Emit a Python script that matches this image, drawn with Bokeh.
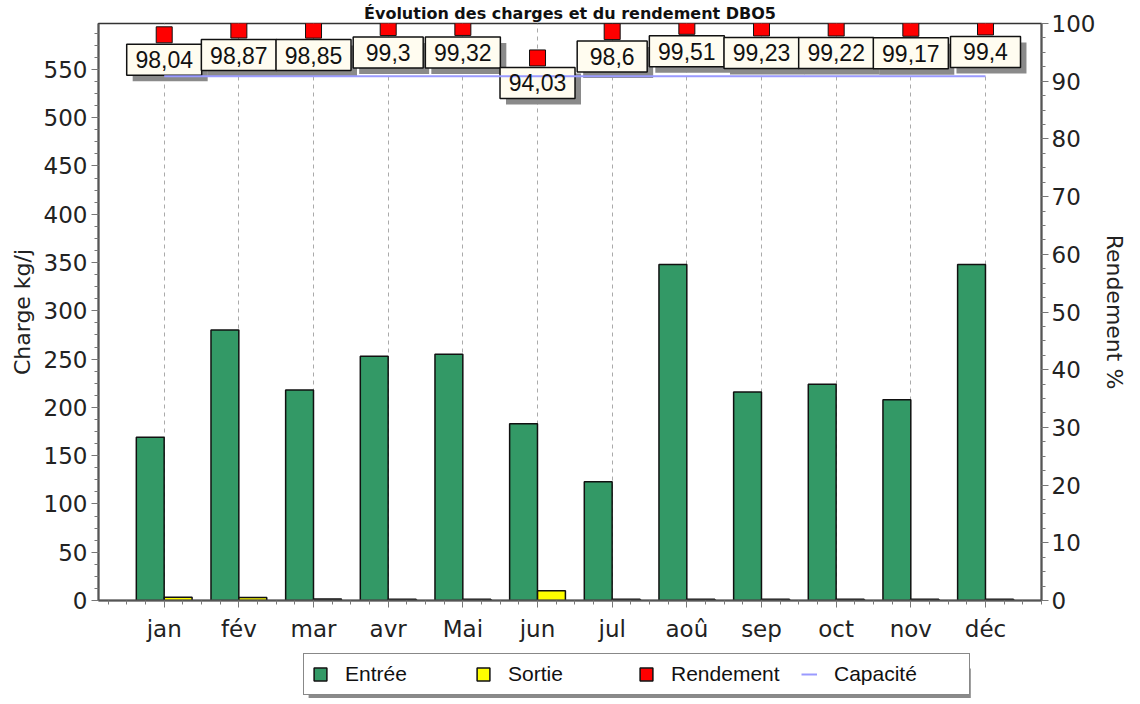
from bokeh.plotting import figure
from bokeh.layouts import column
from bokeh.models import (Range1d, LinearAxis, SingleIntervalTicker, FixedTicker,
                          Title, Legend, LegendItem, ColumnDataSource)
from bokeh.transform import dodge
from bokeh.core.properties import value
from bokeh.embed import file_html
from bokeh.resources import INLINE

# ---- data ----
title = "Évolution des charges et du rendement DBO5"
months = ["jan", "fév", "mar", "avr", "Mai", "jun", "jul", "aoû", "sep", "oct", "nov", "déc"]
entree = [169, 280, 218, 253, 255, 183, 123, 348, 216, 224, 208, 348]
sortie = [3.3, 3.2, 1.6, 1.4, 1.4, 10, 1.4, 1.4, 1.4, 1.4, 1.4, 1.4]
rendement = [98.04, 98.87, 98.85, 99.3, 99.32, 94.03, 98.6, 99.51, 99.23, 99.22, 99.17, 99.4]
capacite = 543
left_max = 597.5
right_max = 100
legend_labels = ["Entrée", "Sortie", "Rendement", "Capacité"]

FONT = "DejaVu Sans"
LFONT = "Liberation Sans"
C_ENT, C_SOR, C_REND, C_CAP = "#339966", "#FFFF00", "#FF0000", "#9a9aff"

W = 1130
FL, FR = 98, 1045          # frame left / right in page pixels
xs = list(range(len(months)))
labels = [f"{v:g}".replace(".", ",") for v in rendement]
src = ColumnDataSource(dict(
    x=xs, entree=entree, sortie=sortie, rend=rendement, lab=labels,
    cap=[capacite] * len(months),
    bw=[50 + 5 * len(s) for s in labels],
))

p = figure(width=W, height=648, x_range=Range1d(-0.88, 11.75),
           y_range=Range1d(0, left_max), output_backend="svg",
           toolbar_location=None, min_border_left=FL, min_border_right=W - FR,
           min_border_top=22, min_border_bottom=48)
p.background_fill_color = "white"
p.border_fill_color = "white"
p.outline_line_color = "#333333"
p.outline_line_width = 1.5

p.extra_y_ranges = {"r": Range1d(0, right_max)}

# axes
minor = [i * 0.25 - 0.75 for i in range(51) if (i * 0.25 - 0.75) % 1 != 0]
p.xaxis.ticker = FixedTicker(ticks=xs, minor_ticks=minor)
p.xaxis.major_label_overrides = {i: m for i, m in enumerate(months)}
p.yaxis.ticker = SingleIntervalTicker(interval=50, num_minor_ticks=4)
p.yaxis.axis_label = "Charge kg/j"
raxis = LinearAxis(y_range_name="r", axis_label="Rendement %",
                   ticker=SingleIntervalTicker(interval=10, num_minor_ticks=4))
p.add_layout(raxis, "right")

for ax in [p.xaxis[0], p.yaxis[0], raxis]:
    ax.axis_line_color = "#555555"
    ax.axis_line_width = 2
    ax.major_tick_line_color = "#777777"
    ax.minor_tick_line_color = "#777777"
    ax.major_tick_in = 0
    ax.minor_tick_in = 0
    ax.major_tick_out = 7
    ax.minor_tick_out = 4
    ax.major_label_text_font = FONT
    ax.major_label_text_font_size = "23px"
    ax.major_label_text_color = "#222222"
    ax.axis_label_text_font = FONT
    ax.axis_label_text_font_size = "22px"
    ax.axis_label_text_font_style = "normal"
    ax.axis_label_text_color = "#222222"
    ax.axis_label_standoff = 6
p.xaxis.major_label_standoff = 8
p.yaxis.major_label_standoff = 4
raxis.major_label_standoff = 3
raxis.axis_label_standoff = 4

p.xgrid.ticker = FixedTicker(ticks=xs)
p.xgrid.grid_line_color = "#aaaaaa"
p.xgrid.grid_line_dash = "4 4"
p.ygrid.visible = False

# bars
p.vbar(x=dodge("x", -0.187), top="entree", width=0.373, bottom=0, source=src,
       fill_color=C_ENT, line_color="#111111", line_width=1.5)
p.vbar(x=dodge("x", 0.187), top="sortie", width=0.373, bottom=0, source=src,
       fill_color=C_SOR, line_color="#111111", line_width=1.5)

# label boxes (shadow + box) below each rendement marker
p.rect(x=dodge("x", 0.08), y=dodge("rend", -4.33 - 1.04), width="bw", height=31,
       width_units="screen", height_units="screen", source=src, y_range_name="r",
       fill_color="#8a8a8a", line_color=None)
p.rect(x="x", y=dodge("rend", -4.33), width="bw", height=31,
       width_units="screen", height_units="screen", source=src, y_range_name="r",
       fill_color="#FFFCF0", line_color="#111111", line_width=1.5)

# capacity line
p.line(x="x", y="cap", source=src, line_color=C_CAP, line_width=2)

p.text(x="x", y=dodge("rend", -4.33), text="lab", source=src, y_range_name="r",
       text_align="center", text_baseline="middle", text_font=value(LFONT),
       text_font_size="23px", text_color="#111111")

p.scatter(x="x", y="rend", source=src, y_range_name="r", marker="square",
          size=16, fill_color=C_REND, line_color="#111111", line_width=1)

# title
p.add_layout(Title(text=title, align="center", text_font=FONT, text_font_size="16px",
                   text_font_style="bold", text_color="#111111", standoff=2), "above")

# ---- legend strip (separate figure below the chart; frame aligned with chart) ----
LH = 50
q = figure(width=W, height=LH, x_range=Range1d(FL, FR), y_range=Range1d(0, LH),
           output_backend="svg", toolbar_location=None, min_border=0,
           min_border_left=FL, min_border_right=W - FR)
q.axis.visible = False
q.grid.visible = False
q.outline_line_color = None
q.background_fill_color = "white"
q.border_fill_color = "white"

LX, LB, LWID, LHT = 303, 3, 665, 33   # legend box left (page px), bottom, size

# legend drop shadow (decoration)
q.quad(left=[LX + 6], right=[LX + LWID + 6], bottom=[LB - 6], top=[LB + LHT - 6],
       fill_color="#8a8a8a", line_color=None)

# hidden proxy renderers (same data) whose glyphs the legend shows
lr_ent = q.vbar(x="x", top="entree", width=1, source=src, fill_color=C_ENT,
                line_color="#111111", line_width=1.5, visible=False)
lr_sor = q.vbar(x="x", top="sortie", width=1, source=src, fill_color=C_SOR,
                line_color="#111111", line_width=1.5, visible=False)
lr_rend = q.vbar(x="x", top="rend", width=1, source=src, fill_color=C_REND,
                 line_color="#111111", line_width=1.5, visible=False)
lr_cap = q.line(x="x", y="cap", source=src, line_color=C_CAP, line_width=2, visible=False)

legend = Legend(items=[LegendItem(label=t, renderers=[r]) for t, r in
                       zip(legend_labels, [lr_ent, lr_sor, lr_rend, lr_cap])],
                orientation="horizontal", location=(LX - FL, LB),
                glyph_width=16, glyph_height=16, label_standoff=17, label_width=127,
                spacing=3, padding=8, margin=0,
                label_text_font=LFONT, label_text_font_size="21px",
                label_text_color="#111111", border_line_color="#111111",
                border_line_width=1.5, background_fill_color="white",
                background_fill_alpha=1.0, inactive_fill_alpha=0.0)
q.add_layout(legend, "center")

layout = column(p, q, spacing=0)
open("out.html", "w").write(file_html(layout, INLINE))
